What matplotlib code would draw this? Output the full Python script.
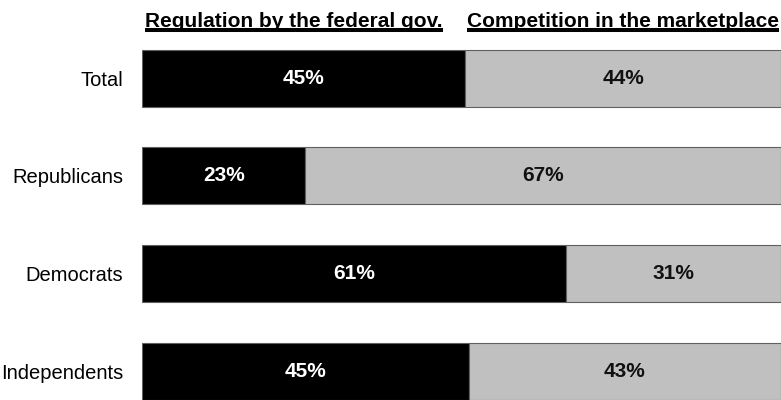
import matplotlib
matplotlib.use("Agg")
import matplotlib.pyplot as plt
from matplotlib.lines import Line2D
import numpy as np

plt.rcParams["font.family"] = ["Liberation Sans", "DejaVu Sans"]

# Datos
groups = ["Total", "Republicans", "Democrats", "Independents"]
regulation = [45, 23, 61, 45]
competition = [44, 67, 31, 43]
headers = ["Regulation by the federal gov.", "Competition in the marketplace"]

COLORS = {
    "regulation":  "#000000",
    "competition": "#C0C0C0",
    "edge":        "#606060",
}

W, H = 781, 400
fig = plt.figure(figsize=(W / 100, H / 100), dpi=100, facecolor="white")

# eje en pixeles: barras de x=142 a 781
ax = fig.add_axes([142 / W, 0, 1 - 142 / W, 1])

reg = np.array(regulation, dtype=float)
comp = np.array(competition, dtype=float)
tot = reg + comp
reg_share = reg / tot
comp_share = comp / tot

y = np.arange(len(groups))
h = 0.584
ax.barh(y, reg_share, height=h, color=COLORS["regulation"],
        edgecolor=COLORS["edge"], linewidth=0.8)
ax.barh(y, comp_share, left=reg_share, height=h, color=COLORS["competition"],
        edgecolor=COLORS["edge"], linewidth=0.8)

for i in range(len(groups)):
    ax.text(reg_share[i] / 2, y[i], f"{regulation[i]}%", ha="center", va="center",
            color="white", fontsize=15, fontweight="bold")
    ax.text(reg_share[i] + comp_share[i] / 2, y[i], f"{competition[i]}%",
            ha="center", va="center", color="#111111", fontsize=15, fontweight="bold")

ax.set_xlim(0, 1)
ax.set_ylim(3.296, -0.802)
ax.set_yticks(y)
ax.set_yticklabels(groups, fontsize=14.5)
ax.tick_params(axis="y", length=0, pad=13.5)
ax.set_xticks([])
for s in ax.spines.values():
    s.set_visible(False)

# Encabezados subrayados
t1 = fig.text(145 / W, 1 - 27 / H, headers[0], ha="left", va="baseline",
              fontsize=15, fontweight="bold")
t2 = fig.text(779 / W, 1 - 27 / H, headers[1], ha="right", va="baseline",
              fontsize=15, fontweight="bold")
fig.canvas.draw()
for t in (t1, t2):
    bb = t.get_window_extent()
    yl = 1 - 30 / H
    fig.add_artist(Line2D([bb.x0 / W, bb.x1 / W], [yl, yl], transform=fig.transFigure,
                          color="black", lw=2.9, solid_capstyle="butt"))

fig.savefig("out.png", dpi=100, facecolor="white")
plt.close(fig)
